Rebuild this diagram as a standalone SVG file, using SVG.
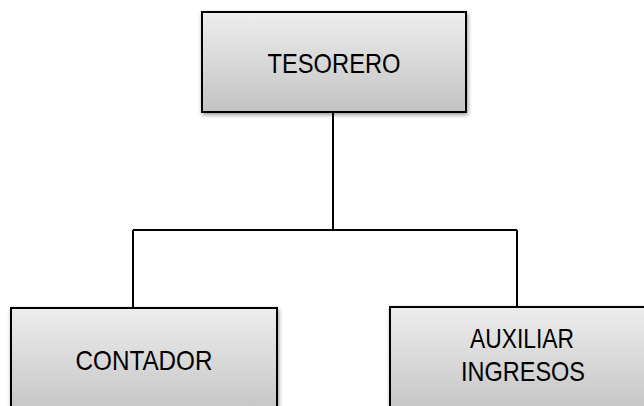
<svg xmlns="http://www.w3.org/2000/svg" width="644" height="406" viewBox="0 0 644 406">
<style>
.box{fill:url(#g);stroke:#000;stroke-width:2;filter:url(#sh)}
.lbl{font-family:"Liberation Sans",Arial,sans-serif;font-size:28px;fill:#000;text-anchor:middle}
.con{fill:none;stroke:#000;stroke-width:2}
</style>
<defs>
<linearGradient id="g" x1="0" y1="0" x2="0" y2="1">
<stop offset="0" stop-color="#ededed"/>
<stop offset="1" stop-color="#c3c3c3"/>
</linearGradient>
<filter id="sh" x="-10%" y="-10%" width="120%" height="130%">
<feGaussianBlur in="SourceAlpha" stdDeviation="2"/>
<feOffset dx="1" dy="2" result="b"/>
<feComponentTransfer><feFuncA type="linear" slope="0.4"/></feComponentTransfer>
<feMerge><feMergeNode/><feMergeNode in="SourceGraphic"/></feMerge>
</filter>
</defs>
<g id="connectors">
<path class="con" d="M333 112 V230 M133 230 H517 M133 230 V308 M517 230 V307"/>
</g>
<g id="tesorero">
<rect class="box" x="202" y="12" width="264" height="100"/>
<text class="lbl" x="334" y="73" textLength="133" lengthAdjust="spacingAndGlyphs">TESORERO</text>
</g>
<g id="contador">
<rect class="box" x="11" y="308" width="266" height="110"/>
<text class="lbl" x="144" y="370" textLength="137" lengthAdjust="spacingAndGlyphs">CONTADOR</text>
</g>
<g id="auxiliar">
<rect class="box" x="390" y="307" width="266" height="110"/>
<text class="lbl" x="522" y="348" textLength="104" lengthAdjust="spacingAndGlyphs">AUXILIAR</text>
<text class="lbl" x="523" y="381" textLength="124" lengthAdjust="spacingAndGlyphs">INGRESOS</text>
</g>
</svg>
